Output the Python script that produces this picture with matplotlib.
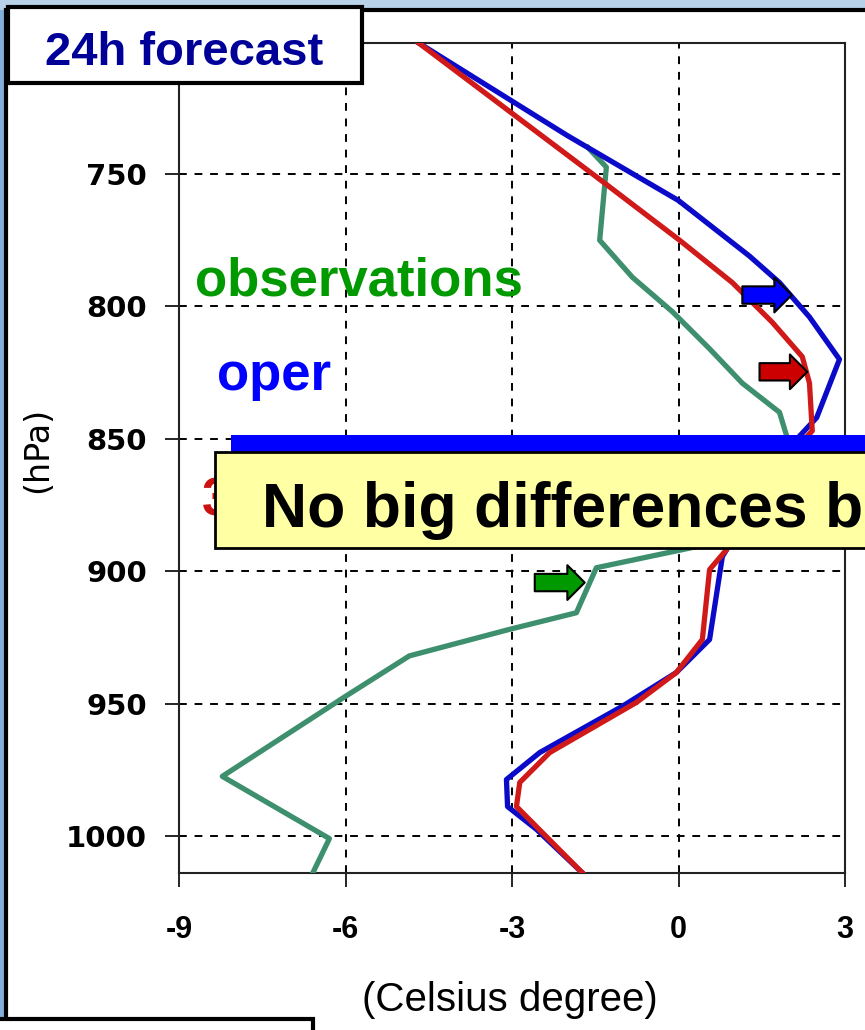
import matplotlib
matplotlib.use("Agg")
import matplotlib.pyplot as plt
from matplotlib.patches import Rectangle

# temperature profiles (Celsius) against pressure (hPa)
obs_T = [-1.63, -1.30, -1.42, -0.83, -0.11, 0.56, 1.15, 1.82, 1.95, 1.85, -1.48, -1.84, -3.05, -4.85, -5.98, -8.22, -6.29, -6.59]
obs_p = [740, 747.4, 775, 789, 802, 816, 829, 840, 849, 884, 898.7, 915.7, 922, 932, 947, 977.5, 1001, 1014]

oper_T = [-4.68, -2.0, 0.0, 1.28, 1.82, 2.36, 2.90, 2.49, 2.18, 1.5, 0.79, 0.56, -0.04, -1.01, -2.50, -3.10, -3.08, -2.56, -1.73]
oper_p = [700.5, 735.5, 760, 781, 791, 804, 820, 842, 849, 870, 894.5, 925.8, 938.3, 951, 968.5, 978.7, 988.9, 997.5, 1014]

exp_T = [-4.68, -1.42, 0.02, 0.97, 1.69, 2.23, 2.36, 2.41, 1.4, 0.86, 0.56, 0.43, -0.04, -0.76, -2.32, -2.86, -2.92, -1.73]
exp_p = [700.5, 752, 775, 791, 806, 819, 829, 847, 870, 892, 899.4, 925.8, 938.3, 949.6, 968.5, 979.8, 988.9, 1014]

xticks = [-9, -6, -3, 0, 3]
yticks = [750, 800, 850, 900, 950, 1000]

W, H = 865, 1030


def fx(px):
    return px / W


def fy(py):
    return 1 - py / H


fig = plt.figure(figsize=(8.65, 10.3), dpi=100, facecolor='#82B0DC')

# slide background: light strip on top, white panel with black frame
fig.add_artist(Rectangle((0, fy(10)), 1, 10 / H, transform=fig.transFigure,
                         facecolor='#B8D2EA', edgecolor='none', zorder=0))
fig.add_artist(Rectangle((fx(6), fy(1040)), 1.0, (1040 - 10) / H, transform=fig.transFigure,
                         facecolor='white', edgecolor='black', linewidth=3, zorder=0.5))

ax = fig.add_axes([fx(179), fy(873), fx(845) - fx(179), fy(43) - fy(873)])
ax.set_zorder(2)
ax.set_facecolor('white')

ax.plot(obs_T, obs_p, color='#3E8F6E', lw=3.8, zorder=3)
ax.plot(oper_T, oper_p, color='#0A0AC8', lw=3.8, zorder=4)
ax.plot(exp_T, exp_p, color='#D01A1A', lw=3.8, zorder=5)

ax.set_xlim(-9, 3)
ax.set_ylim(1014, 700.5)
ax.set_xticks(xticks)
ax.set_yticks(yticks)
ax.set_xticklabels([str(t) for t in xticks])
ax.set_yticklabels([str(t) for t in yticks])
ax.grid(True, color='black', linestyle=(0, (4, 4)), linewidth=1.4)
ax.tick_params(axis='x', length=10, width=1.2, pad=20, direction='out')
ax.tick_params(axis='y', length=10, width=1.2, pad=13, direction='out')
for lab in ax.get_xticklabels():
    lab.set_fontfamily('Liberation Sans')
    lab.set_fontweight('bold')
    lab.set_fontsize(22)
for lab in ax.get_yticklabels():
    lab.set_fontfamily('DejaVu Sans')
    lab.set_fontweight('bold')
    lab.set_fontsize(21)
for sp in ax.spines.values():
    sp.set_linewidth(1.5)
    sp.set_color('#222222')

fig.text(fx(38), fy(450), '(hPa)', rotation=90, ha='center', va='center',
         fontsize=24, family='DejaVu Sans', zorder=3)
fig.text(fx(510), fy(1000), '(Celsius degree)', ha='center', va='center',
         fontsize=29, family='Liberation Sans', zorder=3)

# series labels
ax.text(-8.72, 795.7, 'observations', color='#009900', fontsize=38, fontweight='bold',
        family='Liberation Sans', va='baseline', zorder=6)
ax.text(-8.32, 831.6, 'oper', color='#0000FF', fontsize=38, fontweight='bold',
        family='Liberation Sans', va='baseline', zorder=6)
ax.text(-8.59, 878.8, '3DVar', color='#CC1111', fontsize=38, fontweight='bold',
        family='Liberation Sans', va='baseline', zorder=6)

# arrows pointing at the profiles
arrows = [((1.15, 795.7), (2.04, 795.7), '#0000FF'),
          ((1.46, 824.7), (2.32, 824.7), '#CC0000'),
          ((-2.59, 904.3), (-1.69, 904.3), '#009900')]
for tail, tip, col in arrows:
    ax.annotate('', xy=tip, xytext=tail, zorder=7,
                arrowprops=dict(arrowstyle='simple,head_width=1.0,head_length=0.5,tail_width=0.5',
                                mutation_scale=25, fc=col, ec='black', lw=1.5,
                                shrinkA=0, shrinkB=0))

# title box
fig.add_artist(Rectangle((fx(8), fy(83)), fx(362) - fx(8), (83 - 7) / H, transform=fig.transFigure,
                         facecolor='white', edgecolor='black', linewidth=3, zorder=10))
fig.text(fx(184), fy(65), '24h forecast', color='#000099', fontsize=34, fontweight='bold',
         family='Liberation Sans', ha='center', va='baseline', zorder=11)

# blue bar and yellow callout
fig.add_artist(Rectangle((fx(231), fy(460)), 1, (460 - 435) / H, transform=fig.transFigure,
                         facecolor='#0000FF', edgecolor='none', zorder=12))
fig.add_artist(Rectangle((fx(215), fy(548)), 1, (548 - 452) / H, transform=fig.transFigure,
                         facecolor='#FFFFA3', edgecolor='black', linewidth=2, zorder=13))
fig.text(fx(262), fy(527), 'No big differences b', color='black', fontsize=45, fontweight='bold',
         family='Liberation Sans', ha='left', va='baseline', zorder=14)

# bottom-left box edge
fig.add_artist(Rectangle((-0.01, fy(1040)), fx(313) + 0.01, (1040 - 1019) / H,
                         transform=fig.transFigure, facecolor='white', edgecolor='black',
                         linewidth=3, zorder=10))

fig.savefig('out.png', dpi=100, facecolor=fig.get_facecolor())
